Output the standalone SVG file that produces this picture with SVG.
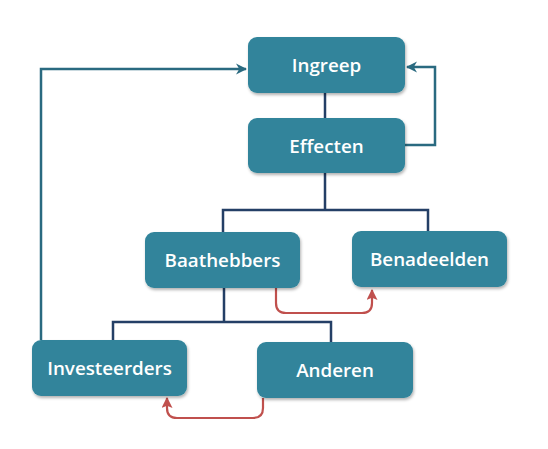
<svg xmlns="http://www.w3.org/2000/svg" width="548" height="449" viewBox="0 0 548 449">
<style>
.box{fill:#31849b;}
.lbl{font-family:"Open Sans","Liberation Sans",sans-serif;font-weight:600;font-size:18.8px;fill:#ffffff;text-anchor:middle;dominant-baseline:central;}
.tree{fill:none;stroke:#243f66;stroke-width:2.5;}
.loop{fill:none;stroke:#2a6a80;stroke-width:2.5;}
.red{fill:none;stroke:#c0504d;stroke-width:2.2;}
</style>
<defs>
<filter id="sh" x="-10%" y="-10%" width="130%" height="140%">
<feDropShadow dx="1" dy="2" stdDeviation="1.5" flood-color="#000" flood-opacity="0.3"/>
</filter>
<marker id="ta" viewBox="0 0 10 10" refX="9" refY="5" markerWidth="4.5" markerHeight="4.5" orient="auto" markerUnits="strokeWidth">
<path d="M0,0 L10,5 L0,10 L3,5 Z" fill="#2a6a80"/>
</marker>
<marker id="ra" viewBox="0 0 10 10" refX="9" refY="5" markerWidth="5" markerHeight="5" orient="auto" markerUnits="strokeWidth">
<path d="M0,0 L10,5 L0,10 L2,5 Z" fill="#c0504d"/>
</marker>
</defs>
<rect width="548" height="449" fill="#ffffff"/>
<g id="connectors">
<path class="tree" d="M325,93 V118"/>
<path class="tree" d="M325,173 V210 M223,232 V210 H428 V231"/>
<path class="tree" d="M224,288 V322 M113,340 V322 H331 V342"/>
<path class="loop" d="M405,145 H435 V67 H407" marker-end="url(#ta)"/>
<path class="loop" d="M41,340 V69 H246" marker-end="url(#ta)"/>
<path class="red" d="M276,288 V303 Q276,313 286,313 H362 Q372,313 372,303 V290" marker-end="url(#ra)"/>
<path class="red" d="M263,398 V408 Q263,418 253,418 H177 Q167,418 167,408 V398" marker-end="url(#ra)"/>
</g>
<g id="ingreep"><rect class="box" x="248" y="37" width="157" height="56" rx="9" filter="url(#sh)"/><text class="lbl" x="326.5" y="65">Ingreep</text></g>
<g id="effecten"><rect class="box" x="248" y="118" width="157" height="55" rx="9" filter="url(#sh)"/><text class="lbl" x="326.5" y="145.5">Effecten</text></g>
<g id="baathebbers"><rect class="box" x="145" y="232" width="155" height="56" rx="9" filter="url(#sh)"/><text class="lbl" x="222.5" y="260">Baathebbers</text></g>
<g id="benadeelden"><rect class="box" x="352" y="231" width="155" height="56" rx="9" filter="url(#sh)"/><text class="lbl" x="429.5" y="259">Benadeelden</text></g>
<g id="investeerders"><rect class="box" x="32" y="340" width="155" height="56" rx="9" filter="url(#sh)"/><text class="lbl" x="109.5" y="368">Investeerders</text></g>
<g id="anderen"><rect class="box" x="257" y="342" width="156" height="56" rx="9" filter="url(#sh)"/><text class="lbl" x="335" y="370">Anderen</text></g>
</svg>
